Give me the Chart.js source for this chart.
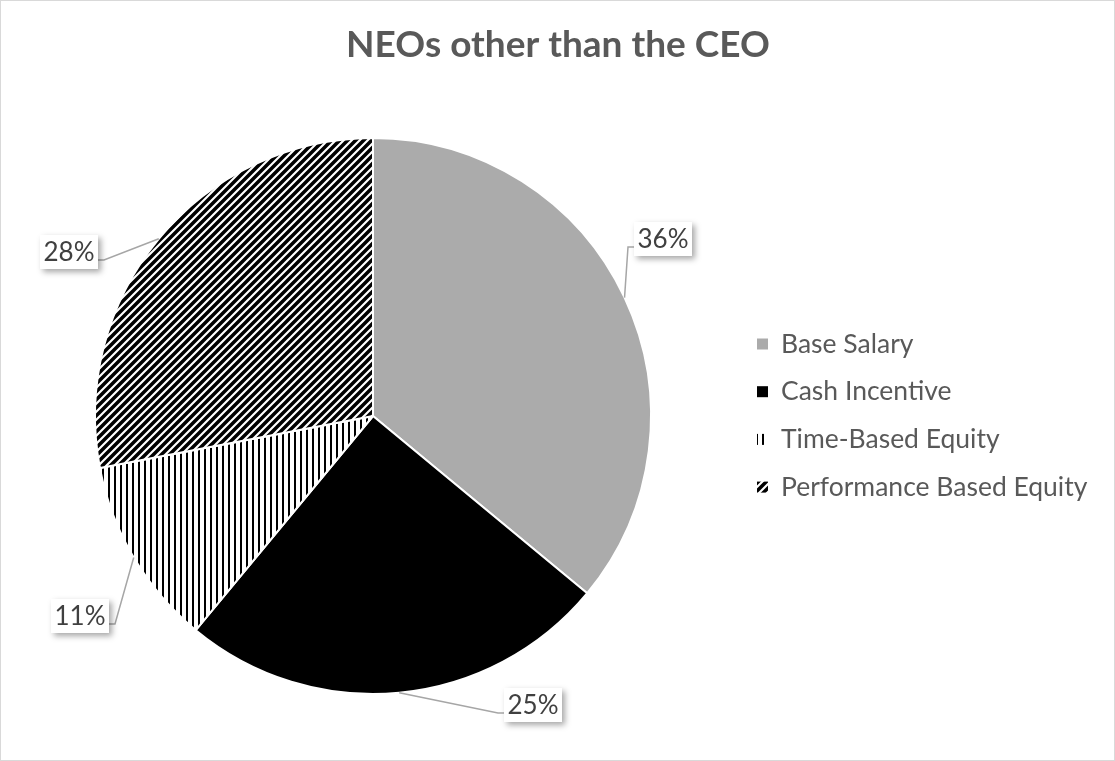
<!DOCTYPE html>
<html>
<head>
<meta charset="utf-8">
<script src="https://cdn.jsdelivr.net/npm/chart.js@4.4.1/dist/chart.umd.min.js"></script>
<style>
  html, body { margin: 0; padding: 0; background: #fff; }
  canvas { display: block; }
</style>
</head>
<body>
<canvas id="pay" width="1115" height="761"></canvas>
<script>
// chart data
const chartTitle = 'NEOs other than the CEO';
const categories = ['Base Salary', 'Cash Incentive', 'Time-Based Equity', 'Performance Based Equity'];
const shares = [36, 25, 11, 28];

// label boxes (center x/y), placed by hand like the original
const labelBoxes = [[663, 239], [533, 705], [80, 616], [69, 252]];

const FONT = 'Lato, "Open Sans", sans-serif';

function makePattern(size, draw) {
    const c = document.createElement('canvas');
    c.width = size; c.height = size;
    const g = c.getContext('2d');
    g.fillStyle = '#fff';
    g.fillRect(0, 0, size, size);
    draw(g, size);
    return document.getElementById('pay').getContext('2d').createPattern(c, 'repeat');
}

const vertStripes = makePattern(6, (g) => {
    g.fillStyle = '#000';
    g.fillRect(0, 0, 2, 6);
});

const diagStripes = makePattern(8, (g, s) => {
    g.strokeStyle = '#000';
    g.lineWidth = 3.5;
    g.beginPath();
    g.moveTo(-1, s + 1); g.lineTo(s + 1, -1);
    g.moveTo(-2, 2); g.lineTo(2, -2);
    g.moveTo(s - 2, s + 2); g.lineTo(s + 2, s - 2);
    g.stroke();
});

const fills = ['#ababab', '#000000', vertStripes, diagStripes];

const decorations = {
    id: 'decorations',
    afterDraw(chart) {
        const ctx = chart.ctx;
        ctx.save();

        // frame
        ctx.strokeStyle = '#d9d9d9';
        ctx.lineWidth = 1;
        ctx.strokeRect(0.5, 0.5, chart.width - 1, chart.height - 1);

        // title
        ctx.fillStyle = '#595959';
        ctx.font = 'bold 37px ' + FONT;
        ctx.textAlign = 'center';
        ctx.textBaseline = 'middle';
        ctx.fillText(chartTitle, 558, 45);

        // data labels with leader lines
        const arcs = chart.getDatasetMeta(0).data;
        const total = shares.reduce((a, b) => a + b, 0);
        arcs.forEach((arc, i) => {
            const mid = (arc.startAngle + arc.endAngle) / 2;
            const ex = arc.x + Math.cos(mid) * arc.outerRadius;
            const ey = arc.y + Math.sin(mid) * arc.outerRadius;
            const [bx, by] = labelBoxes[i];
            const w = 58, h = 34;
            const toRight = bx > ex;
            const side = toRight ? bx - w / 2 : bx + w / 2;
            const elbowX = toRight ? side - 6 : side + 6;
            const ly = by + 8;

            ctx.strokeStyle = '#a6a6a6';
            ctx.lineWidth = 1.5;
            ctx.beginPath();
            ctx.moveTo(ex, ey);
            ctx.lineTo(elbowX, ly);
            ctx.lineTo(side, ly);
            ctx.stroke();

            ctx.save();
            ctx.shadowColor = 'rgba(0,0,0,0.35)';
            ctx.shadowBlur = 6;
            ctx.shadowOffsetX = 3;
            ctx.shadowOffsetY = 3;
            ctx.fillStyle = '#fff';
            ctx.fillRect(bx - w / 2, by - h / 2, w, h);
            ctx.restore();

            ctx.fillStyle = '#404040';
            ctx.font = '26px ' + FONT;
            ctx.textAlign = 'center';
            ctx.textBaseline = 'middle';
            ctx.fillText(Math.round(shares[i] / total * 100) + '%', bx, by + 1);
        });

        // legend
        categories.forEach((name, i) => {
            const y = 344 + i * 47.7;
            ctx.fillStyle = fills[i];
            ctx.fillRect(757, y - 5.5, 11, 11);
            ctx.fillStyle = '#595959';
            ctx.font = '26.5px ' + FONT;
            ctx.textAlign = 'left';
            ctx.textBaseline = 'middle';
            ctx.fillText(name, 781, y);
        });

        ctx.restore();
    }
};

new Chart(document.getElementById('pay'), {
    type: 'pie',
    data: {
        labels: categories,
        datasets: [{
            data: shares,
            backgroundColor: fills,
            borderColor: '#ffffff',
            borderWidth: 2
        }]
    },
    options: {
        responsive: false,
        animation: false,
        layout: { padding: { left: 94, right: 463, top: 137, bottom: 66 } },
        plugins: {
            legend: { display: false },
            tooltip: { enabled: false },
            title: { display: false }
        }
    },
    plugins: [decorations]
});
</script>
</body>
</html>
